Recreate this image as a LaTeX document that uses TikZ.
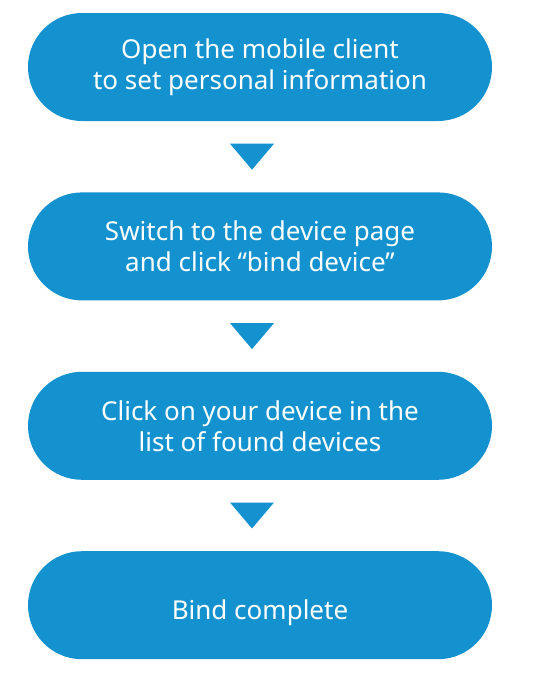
\documentclass[tikz,border=0pt]{standalone}
\usepackage{fontspec}
\setmainfont{Noto Sans}
\usetikzlibrary{positioning,calc}
\definecolor{pillblue}{RGB}{20,146,207}
\begin{document}
\begin{tikzpicture}[x=1pt,y=1pt,node distance=71pt,
		pilltext/.style={text=white,align=center,font=\fontsize{26}{31}\selectfont},
		pill/.style={pilltext,fill=pillblue,rounded corners=54pt,minimum width=464pt,minimum height=108pt,inner sep=0pt}]
	\useasboundingbox (0,0) rectangle (550,-680);
	\node[pill] (open) at (260,-67) {Open the mobile client\\to set personal information};
	\node[pill,below=of open] (switch) {Switch to the device page\\and click “bind device”};
	\node[pill,below=of switch] (click) {Click on your device in the\\list of found devices};
	\node[pill,below=of click,label={[pilltext,yshift=-8pt]center:Bind complete}] (bind) {};
	\foreach \a/\b in {open/switch,switch/click,click/bind}
		\fill[pillblue] ($(\a.south)!0.5!(\b.north)+(-30,13)$) -- ++(44,0) -- ++(-22,-26) -- cycle;
\end{tikzpicture}
\end{document}
